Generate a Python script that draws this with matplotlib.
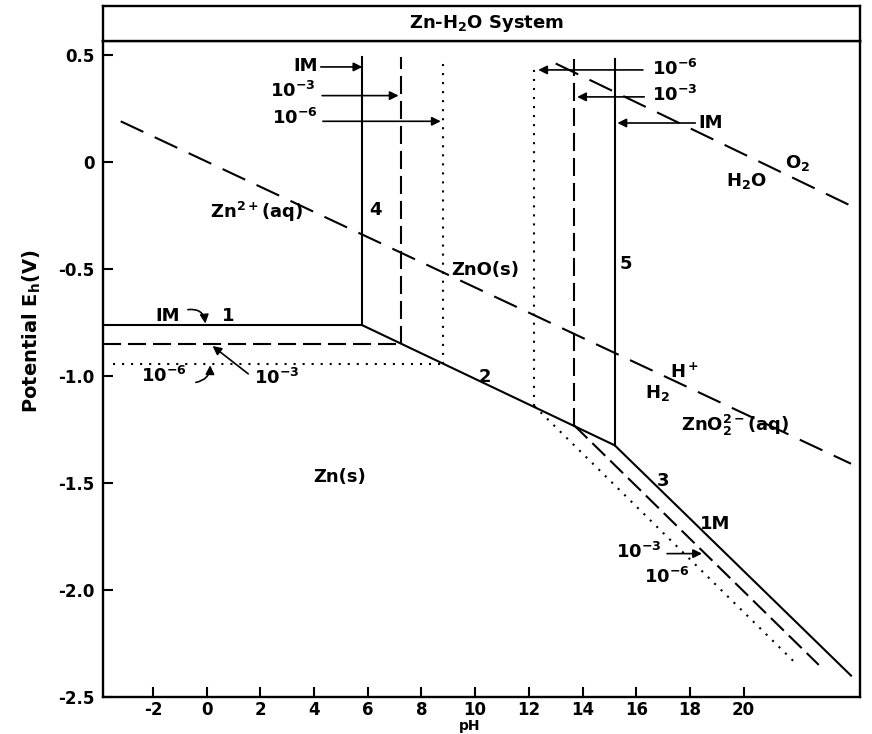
import matplotlib.pyplot as plt

plt.rcParams["font.family"] = "DejaVu Sans"
plt.rcParams["font.weight"] = "bold"
plt.rcParams["mathtext.fontset"] = "custom"
plt.rcParams["mathtext.rm"] = "DejaVu Sans:bold"
plt.rcParams["mathtext.it"] = "DejaVu Sans:bold"
plt.rcParams["mathtext.bf"] = "DejaVu Sans:bold"
plt.rcParams["lines.scale_dashes"] = False

# axis ticks
xticks = [-2, 0, 2, 4, 6, 8, 10, 12, 14, 16, 18, 20]
yticks = [0.5, 0, -0.5, -1.0, -1.5, -2.0, -2.5]
ytick_labels = ["0.5", "0", "-0.5", "-1.0", "-1.5", "-2.0", "-2.5"]

# boundaries for 1M, 1e-3 M, 1e-6 M
styles = ["solid", "dashed", "dotted"]
line1_start = [-3.86, -3.86, -3.5]
line1_e = [-0.763, -0.850, -0.944]        # Zn2+/Zn(s)
line4_ph = [5.8, 7.25, 8.8]               # Zn2+/ZnO(s)
line4_top = [0.49, 0.49, 0.49]
line5_ph = [15.2, 13.7, 12.2]             # ZnO(s)/ZnO2 2-
line5_bot = [-1.324, -1.232, -1.14]
line5_top = [0.48, 0.48, 0.45]
line3_end_ph = [24.0, 22.8, 22.0]         # ZnO2 2-/Zn(s)
line3_end_e = [-2.40, -2.35, -2.35]

# line 2 ZnO(s)/Zn(s)
line2_ph = [5.8, 15.2]
line2_e = [-0.763, -1.324]

# water stability lines
h2_ph = [-3.2, 24.0]
h2_e = [0.19, -1.41]
o2_ph = [13.0, 24.33]
o2_e = [0.46, -0.225]

fig = plt.figure(figsize=(8.72, 7.34), dpi=100)
ax = fig.add_axes([0.1181, 0.0504, 0.868, 0.8937])
tax = fig.add_axes([0.1181, 0.9441, 0.868, 0.0477])

dash_map = {"solid": None, "dashed": (13, 5), "dotted": (1.5, 5)}

for i, st in enumerate(styles):
    kw = dict(color="k", lw=1.5)
    if dash_map[st] is not None:
        kw["dashes"] = dash_map[st]
    ax.plot([line1_start[i], line4_ph[i]], [line1_e[i], line1_e[i]], **kw)
    ax.plot([line4_ph[i], line4_ph[i]], [line1_e[i], line4_top[i]], **kw)
    ax.plot([line5_ph[i], line5_ph[i]], [line5_bot[i], line5_top[i]], **kw)
    ax.plot([line5_ph[i], line3_end_ph[i]], [line5_bot[i], line3_end_e[i]], **kw)

ax.plot(line2_ph, line2_e, color="k", lw=1.5)
ax.plot(h2_ph, h2_e, color="k", lw=1.5, dashes=(18, 9))
ax.plot(o2_ph, o2_e, color="k", lw=1.5, dashes=(18, 9))

ax.set_xlim(-3.86, 24.33)
ax.set_ylim(-2.5, 0.565)
ax.set_xticks(xticks)
ax.set_xticklabels([str(t) for t in xticks])
ax.set_yticks(yticks)
ax.set_yticklabels(ytick_labels)
ax.tick_params(direction="in", length=7, width=1.5, labelsize=12)
ax.tick_params(axis="x", pad=3)
ax.tick_params(axis="y", pad=6)
for s in ax.spines.values():
    s.set_linewidth(1.7)

fs = 13
arrow = dict(arrowstyle="-|>", color="k", lw=1.2, mutation_scale=13,
             shrinkA=0, shrinkB=0)

def label(x, y, s, ha="center", size=fs):
    ax.text(x, y, s, ha=ha, va="center", fontsize=size, fontweight="bold")

def arr(x0, y0, x1, y1, rad=0.0):
    a = dict(arrow)
    a["connectionstyle"] = "arc3,rad=%s" % rad
    ax.annotate("", xy=(x1, y1), xytext=(x0, y0), arrowprops=a)

# top left arrows
label(4.15, 0.45, "IM", ha="right")
arr(4.25, 0.444, 5.8, 0.444)
label(4.05, 0.33, r"10$^{-3}$", ha="right")
arr(4.3, 0.31, 7.15, 0.31)
label(4.15, 0.205, r"10$^{-6}$", ha="right")
arr(4.33, 0.19, 8.72, 0.19)

# top right arrows
label(16.6, 0.435, r"10$^{-6}$", ha="left")
arr(16.25, 0.43, 12.35, 0.43)
label(16.6, 0.315, r"10$^{-3}$", ha="left")
arr(16.3, 0.304, 13.8, 0.304)
label(18.3, 0.182, "IM", ha="left")
arr(18.2, 0.182, 15.3, 0.182)

# region and line labels
label(6.3, -0.224, "4")
label(1.85, -0.234, r"Zn$^{2+}$(aq)")
label(10.37, -0.505, "ZnO(s)")
label(15.6, -0.477, "5")
label(22.0, -0.005, r"O$_2$")
label(20.1, -0.09, r"H$_2$O")
label(-1.47, -0.72, "IM")
arr(-0.7, -0.69, -0.05, -0.755, rad=-0.5)
label(0.8, -0.72, "1")
label(-1.6, -1.0, r"10$^{-6}$")
arr(-0.4, -1.03, 0.13, -0.95, rad=0.4)
label(2.62, -1.01, r"10$^{-3}$")
arr(1.55, -0.99, 0.22, -0.86)
label(10.37, -1.005, "2")
label(17.8, -0.98, r"H$^+$")
label(16.8, -1.08, r"H$_2$")
label(19.67, -1.23, r"ZnO$_2^{2-}$(aq)")
label(17.0, -1.49, "3")
label(18.93, -1.69, "1M")
label(16.1, -1.82, r"10$^{-3}$")
arr(17.15, -1.83, 18.45, -1.83)
label(17.15, -1.94, r"10$^{-6}$")
label(4.97, -1.47, "Zn(s)")

# title box
tax.set_xticks([])
tax.set_yticks([])
for s in tax.spines.values():
    s.set_linewidth(1.7)
tax.text(0.507, 0.5, r"Zn-H$_2$O System", ha="center", va="center",
         fontsize=13, fontweight="bold", transform=tax.transAxes)

fig.text(32 / 872, 1 - 331 / 734, r"Potential E$_h$(V)", rotation=90,
         ha="center", va="center", fontsize=14, fontweight="bold")
fig.text(470 / 872, 1 - 733 / 734, "pH", ha="center", va="bottom",
         fontsize=10, fontweight="bold")

fig.savefig("out.png", dpi=100)
